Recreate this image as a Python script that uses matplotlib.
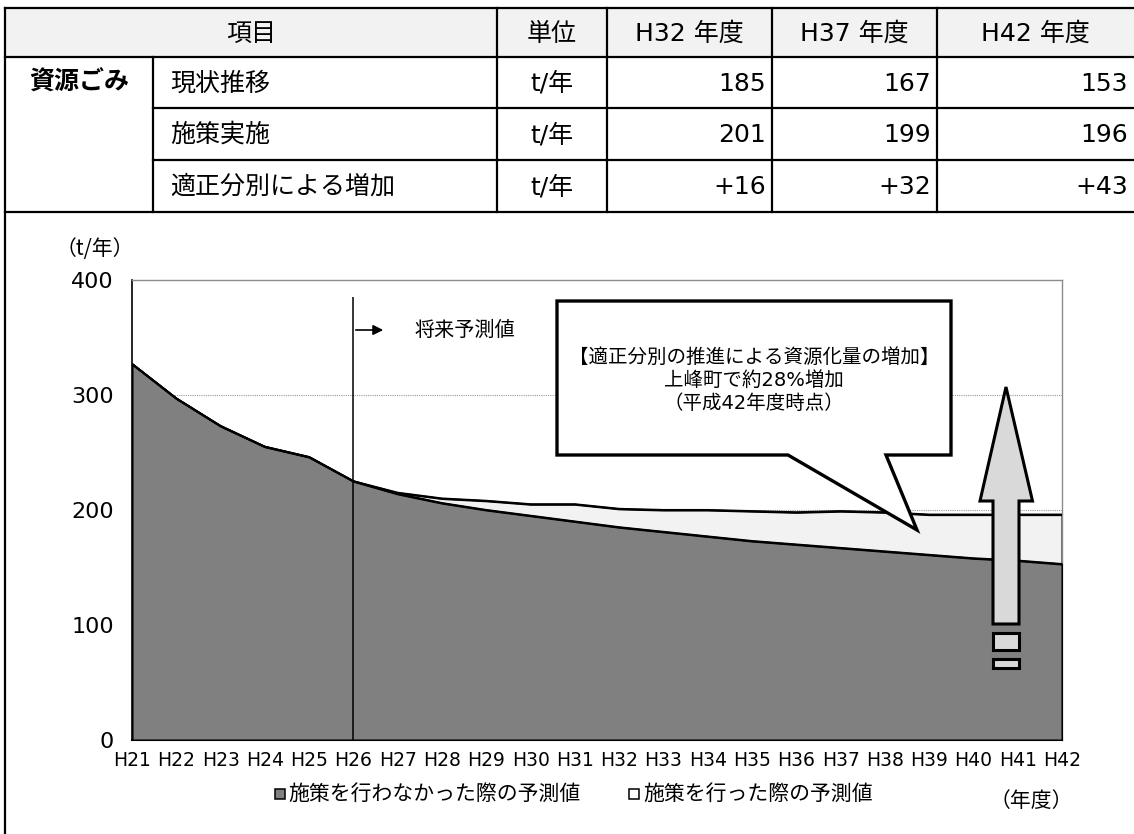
import matplotlib
matplotlib.use('Agg')
import matplotlib.pyplot as plt
from matplotlib.patches import Polygon, Rectangle

plt.rcParams['font.family'] = ['DejaVu Sans', 'Noto Sans CJK JP']
CJK_FIRST = ['Noto Sans CJK JP', 'DejaVu Sans']

# ---------------- data ----------------
years = ['H21', 'H22', 'H23', 'H24', 'H25', 'H26', 'H27', 'H28', 'H29', 'H30', 'H31',
         'H32', 'H33', 'H34', 'H35', 'H36', 'H37', 'H38', 'H39', 'H40', 'H41', 'H42']
base_values = [327, 297, 273, 255, 246, 225, 214, 206, 200, 195, 190,
               185, 181, 177, 173, 170, 167, 164, 161, 158, 156, 153]
policy_values = [327, 297, 273, 255, 246, 225, 215, 210, 208, 205, 205,
                 201, 200, 200, 199, 198, 199, 198, 196, 196, 196, 196]
y_ticks = [0, 100, 200, 300, 400]

table_header = ['項目', '単位', 'H32 年度', 'H37 年度', 'H42 年度']
table_group = '資源ごみ'
table_rows = ['現状推移', '施策実施', '適正分別による増加']
table_unit = 't/年'
table_values = [['185', '167', '153'],
                ['201', '199', '196'],
                ['+16', '+32', '+43']]

legend_labels = ['施策を行わなかった際の予測値', '施策を行った際の予測値']
callout_lines = ['【適正分別の推進による資源化量の増加】', '上峰町で約28%増加', '（平成42年度時点）']

# ---------------- figure ----------------
W, H = 1134, 834
fig = plt.figure(figsize=(W / 100, H / 100), dpi=100)

ax_left, ax_right, ax_top, ax_bot = 132, 1062, 280, 740
ax = fig.add_axes([ax_left / W, (H - ax_bot) / H, (ax_right - ax_left) / W, (ax_bot - ax_top) / H])
x = list(range(len(years)))

for gy in y_ticks[1:4]:
    ax.axhline(gy, color='#9a9a9a', lw=0.8, ls=(0, (1, 1)), zorder=0)

ax.fill_between(x, 0, policy_values, facecolor='#f2f2f2', edgecolor='black', lw=1.5, zorder=2)
ax.fill_between(x, 0, base_values, facecolor='#808080', edgecolor='black', lw=1.5, zorder=3)
ax.plot(x, policy_values, color='black', lw=1.5, zorder=4)
ax.plot(x, base_values, color='black', lw=1.5, zorder=4)

# future-forecast separator at H26
ax.vlines(years.index('H26'), 0, 385, color='black', lw=1.1, zorder=5)

ax.set_xlim(0, len(years) - 1)
ax.set_ylim(0, 400)
ax.set_xticks(x)
ax.set_xticklabels(years, fontsize=13.5)
ax.set_yticks(y_ticks)
ax.set_yticklabels([str(v) for v in y_ticks], fontsize=16)
ax.tick_params(axis='x', direction='in', length=4, color='#999999', pad=8)
ax.tick_params(axis='y', direction='in', length=0, pad=13)
for s in ['top', 'right']:
    ax.spines[s].set_color('#8c8c8c')
    ax.spines[s].set_linewidth(1.0)
ax.spines['left'].set_color('black')
ax.spines['left'].set_linewidth(1.2)
ax.spines['bottom'].set_color('black')
ax.spines['bottom'].set_linewidth(1.5)

# ---------------- overlay in pixel coords ----------------
ov = fig.add_axes([0, 0, 1, 1], zorder=5)
ov.set_xlim(0, W)
ov.set_ylim(H, 0)
ov.axis('off')
ov.patch.set_alpha(0)

# table geometry
col_x = [5, 153, 497, 607, 772, 937, W]
row_y = [8, 57, 108, 160, 212]
ov.add_patch(Rectangle((col_x[0], row_y[0]), W - col_x[0], row_y[1] - row_y[0],
                       facecolor='#f2f2f2', edgecolor='none', zorder=1))
lw_t = 1.6


def hline(y, x0, x1):
    ov.plot([x0, x1], [y, y], color='black', lw=lw_t, solid_capstyle='projecting', zorder=3)


def vline(xx, y0, y1):
    ov.plot([xx, xx], [y0, y1], color='black', lw=lw_t, solid_capstyle='projecting', zorder=3)


hline(row_y[0], col_x[0], W)
hline(row_y[1], col_x[0], W)
hline(row_y[2], col_x[1], W)
hline(row_y[3], col_x[1], W)
hline(row_y[4], col_x[0], W)
vline(col_x[0], row_y[0], H)
vline(col_x[1], row_y[1], row_y[4])
for cx in col_x[2:6]:
    vline(cx, row_y[0], row_y[4])

fs_t = 18
hy = (row_y[0] + row_y[1]) / 2 + 1
ov.text((col_x[0] + col_x[2]) / 2, hy, table_header[0], ha='center', va='center', fontsize=fs_t)
for i, lab in enumerate(table_header[1:]):
    ov.text((col_x[2 + i] + col_x[3 + i]) / 2, hy, lab, ha='center', va='center', fontsize=fs_t)

ov.text((col_x[0] + col_x[1]) / 2, (row_y[1] + row_y[2]) / 2, table_group, ha='center', va='center',
        fontsize=fs_t, fontweight='bold')
for r, lab in enumerate(table_rows):
    cy = (row_y[1 + r] + row_y[2 + r]) / 2 + 1
    ov.text(170, cy, lab, ha='left', va='center', fontsize=fs_t)
    ov.text((col_x[2] + col_x[3]) / 2, cy, table_unit, ha='center', va='center', fontsize=fs_t)
    for c, v in enumerate(table_values[r]):
        ov.text(col_x[4 + c] - 6, cy, v, ha='right', va='center', fontsize=fs_t)

# y-axis unit
ov.text(95, 249, '（t/年）', ha='center', va='center', fontsize=15, family=CJK_FIRST)

# future arrow and label
ov.annotate('', xy=(386, 330), xytext=(353, 330),
            arrowprops=dict(arrowstyle='-|>', color='black', lw=1.2, mutation_scale=15))
ov.text(415, 330, '将来予測値', ha='left', va='center', fontsize=14.5)

# callout
callout = Polygon([(557, 301), (951, 301), (951, 455), (886, 455), (917, 530), (788, 455), (557, 455)],
                  closed=True, facecolor='white', edgecolor='black', lw=2.4, joinstyle='miter', zorder=6)
ov.add_patch(callout)
for i, t in enumerate(callout_lines):
    ov.text(754, 357 + 23 * i, t, ha='center', va='center', fontsize=14, zorder=7)

# big up arrow
arrow = Polygon([(1006, 387), (1032.5, 501), (1019, 501), (1019, 624), (993, 624), (993, 501), (980, 501)],
                closed=True, facecolor='#d9d9d9', edgecolor='black', lw=2.2, joinstyle='miter', zorder=6)
ov.add_patch(arrow)
ov.add_patch(Rectangle((993, 633), 26, 17, facecolor='#d9d9d9', edgecolor='black', lw=2.2, zorder=6))
ov.add_patch(Rectangle((993, 659), 26, 9, facecolor='#d9d9d9', edgecolor='black', lw=2.2, zorder=6))

# legend
leg_y = 794
ov.add_patch(Rectangle((275, leg_y - 5), 10, 10, facecolor='#808080', edgecolor='black', lw=1.1, zorder=6))
ov.text(288, leg_y, legend_labels[0], ha='left', va='center', fontsize=15)
ov.add_patch(Rectangle((629, leg_y - 5), 10, 10, facecolor='white', edgecolor='black', lw=1.1, zorder=6))
ov.text(643, leg_y, legend_labels[1], ha='left', va='center', fontsize=15)
ov.text(1031, 801, '（年度）', ha='center', va='center', fontsize=15, family=CJK_FIRST)

fig.savefig('out.png', dpi=100)
